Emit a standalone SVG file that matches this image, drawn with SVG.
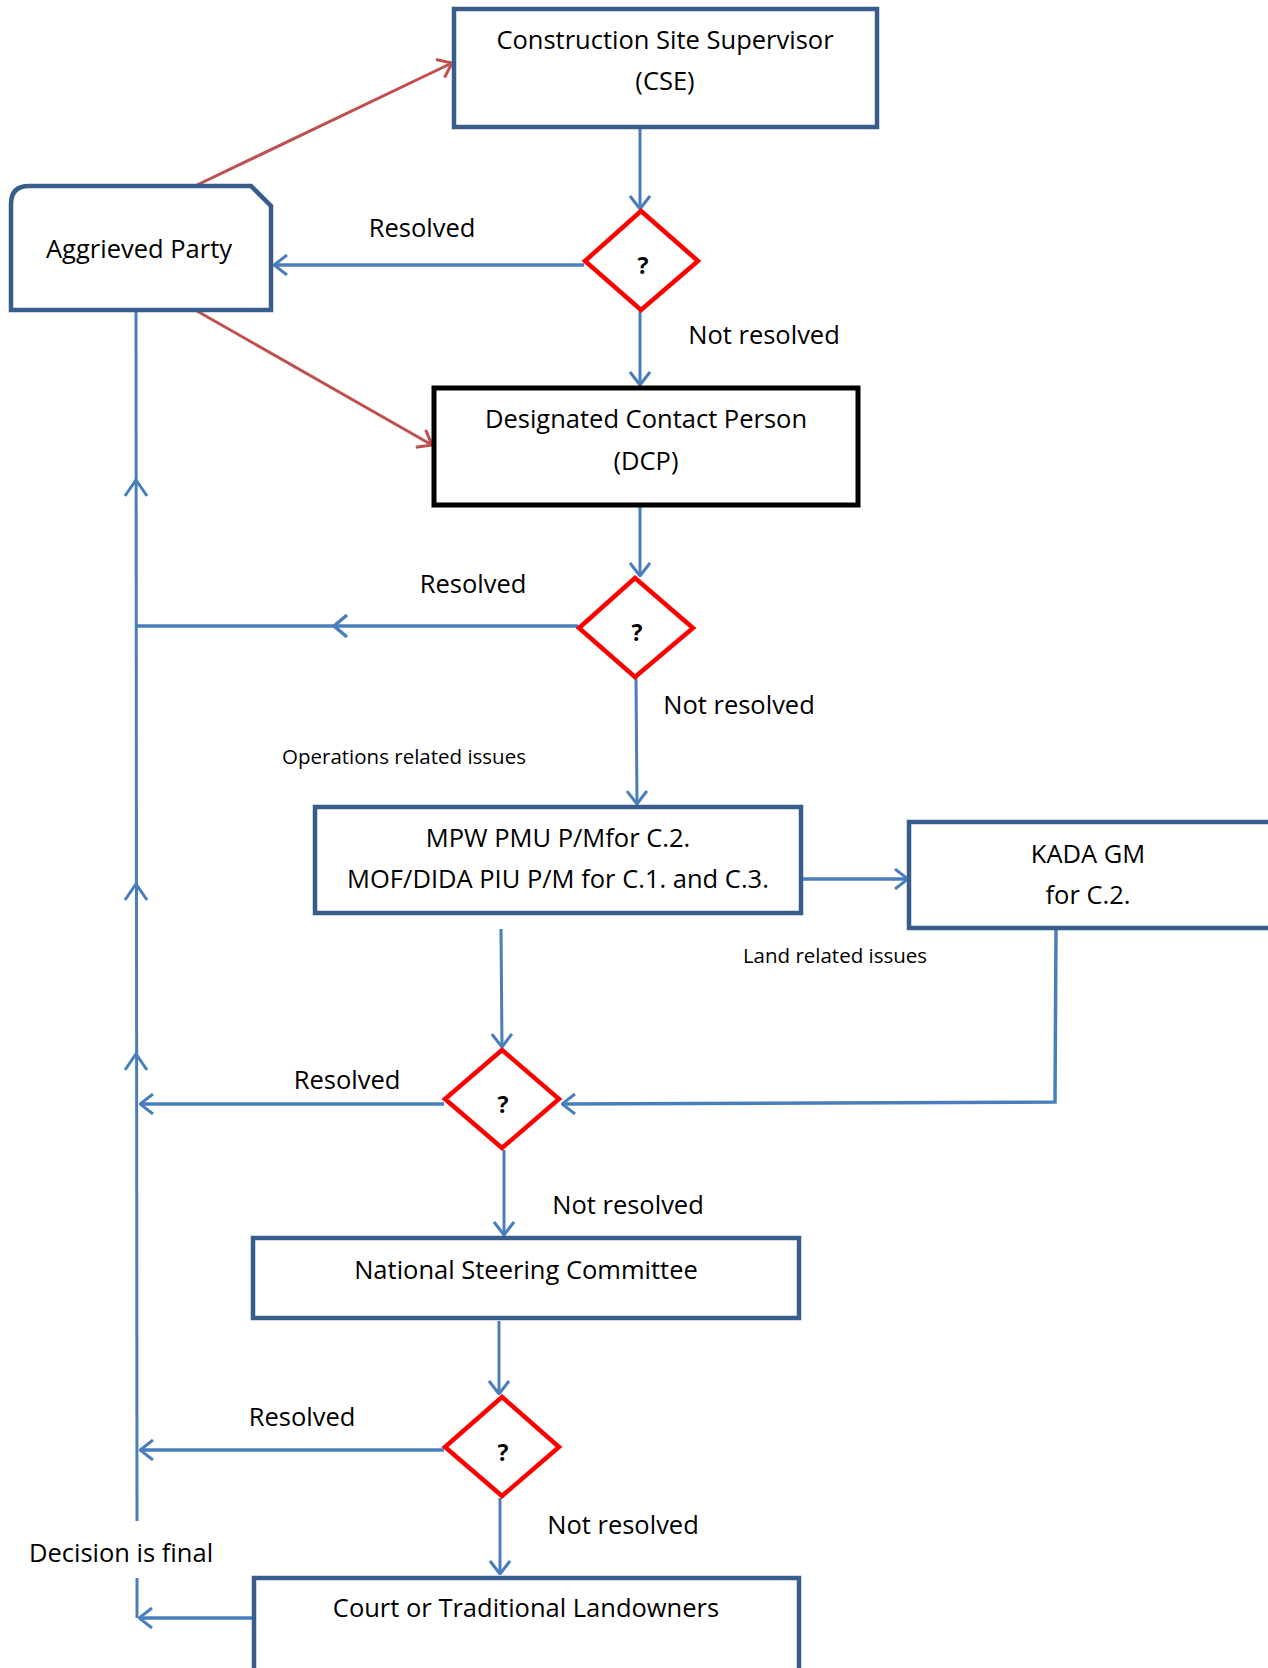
<svg xmlns="http://www.w3.org/2000/svg" width="1268" height="1668" viewBox="0 0 1268 1668">
<style>
.box{fill:#fff;stroke:#385D8A;stroke-width:4.5}
.dia{fill:#fff;stroke:#FF0000;stroke-width:4.5;stroke-linejoin:miter}
.t{font-family:"Open Sans","Liberation Sans",sans-serif;font-size:25.5px;fill:#000;text-anchor:middle}
.s{font-family:"Open Sans","Liberation Sans",sans-serif;font-size:20.5px;fill:#000;text-anchor:middle}
.q{font-family:"Open Sans","Liberation Sans",sans-serif;font-size:23px;font-weight:bold;fill:#000;text-anchor:middle}
.c{fill:none;stroke:#4A7EBB;stroke-width:3}
.ct{fill:none;stroke:#4A7EBB;stroke-width:3.5}
.r{fill:none;stroke:#C0504D;stroke-width:3}
</style>
<defs>
<marker id="ab" viewBox="0 0 15 22" refX="14" refY="11" markerWidth="15" markerHeight="22" markerUnits="userSpaceOnUse" orient="auto">
<path d="M1,1 L14,11 L1,21" fill="none" stroke="#4A7EBB" stroke-width="3"/>
</marker>
<marker id="ar" viewBox="0 0 15 22" refX="14" refY="11" markerWidth="15" markerHeight="22" markerUnits="userSpaceOnUse" orient="auto">
<path d="M1,1 L14,11 L1,21" fill="none" stroke="#C0504D" stroke-width="3"/>
</marker>
</defs>

<g id="connectors">
<line class="r" x1="197" y1="185" x2="452" y2="63" marker-end="url(#ar)"/>
<line class="r" x1="197" y1="311" x2="432" y2="445" marker-end="url(#ar)"/>
<line class="c" x1="640" y1="128" x2="640" y2="209" marker-end="url(#ab)"/>
<line class="ct" x1="584" y1="265" x2="274" y2="265" marker-end="url(#ab)"/>
<line class="c" x1="640" y1="311" x2="640" y2="385" marker-end="url(#ab)"/>
<line class="c" x1="640" y1="507" x2="640" y2="576" marker-end="url(#ab)"/>
<line class="ct" x1="578" y1="626" x2="136" y2="626"/>
<path class="ct" d="M347,615 L334,626 L347,637"/>
<line class="c" x1="636" y1="678" x2="637" y2="804" marker-end="url(#ab)"/>
<line class="ct" x1="803" y1="879" x2="908" y2="879" marker-end="url(#ab)"/>
<line class="c" x1="501" y1="929" x2="502" y2="1047" marker-end="url(#ab)"/>
<polyline class="ct" points="1056,929 1055,1102 562,1104" marker-end="url(#ab)"/>
<line class="ct" x1="444" y1="1104" x2="140" y2="1104" marker-end="url(#ab)"/>
<line class="c" x1="504" y1="1150" x2="504" y2="1235" marker-end="url(#ab)"/>
<line class="c" x1="499" y1="1321" x2="499" y2="1394" marker-end="url(#ab)"/>
<line class="ct" x1="444" y1="1450" x2="140" y2="1450" marker-end="url(#ab)"/>
<line class="c" x1="500" y1="1498" x2="500" y2="1574" marker-end="url(#ab)"/>
<line class="c" x1="136" y1="312" x2="137" y2="1521"/>
<path class="c" d="M125,496 L136,480 L147,496"/>
<path class="c" d="M125,900 L136,884 L147,900"/>
<path class="c" d="M125,1070 L136,1054 L147,1070"/>
<line class="c" x1="137" y1="1578" x2="137" y2="1618"/>
<line class="ct" x1="252" y1="1618" x2="139" y2="1618" marker-end="url(#ab)"/>
</g>

<g id="cse">
<rect class="box" x="454" y="9" width="423" height="118"/>
<text class="t" x="665" y="49">Construction Site Supervisor</text>
<text class="t" x="665" y="90">(CSE)</text>
</g>
<g id="aggrieved">
<path class="box" d="M11,310 L11,204 Q11,186 29,186 L251,186 L271,206 L271,310 Z"/>
<text class="t" x="139" y="258">Aggrieved Party</text>
</g>
<g id="d1">
<polygon class="dia" points="641,211 698,261 641,310 585,261"/>
<text class="q" x="643" y="274">?</text>
</g>
<g id="dcp">
<rect x="434" y="388" width="424" height="117" fill="#fff" stroke="#000" stroke-width="5"/>
<text class="t" x="646" y="428">Designated Contact Person</text>
<text class="t" x="646" y="470">(DCP)</text>
</g>
<g id="d2">
<polygon class="dia" points="635,578 693,628 635,677 579,628"/>
<text class="q" x="637" y="641">?</text>
</g>
<g id="mpw">
<rect class="box" x="315" y="807" width="486" height="106"/>
<text class="t" x="558" y="847">MPW PMU P/Mfor C.2.</text>
<text class="t" x="558" y="888">MOF/DIDA PIU P/M for C.1. and C.3.</text>
</g>
<g id="kada">
<rect class="box" x="909" y="822" width="370" height="106"/>
<text class="t" x="1088" y="863">KADA GM</text>
<text class="t" x="1088" y="904">for C.2.</text>
</g>
<g id="d3">
<polygon class="dia" points="502,1050 559,1099 502,1148 445,1099"/>
<text class="q" x="503" y="1113">?</text>
</g>
<g id="nsc">
<rect class="box" x="253" y="1238" width="546" height="80"/>
<text class="t" x="526" y="1279">National Steering Committee</text>
</g>
<g id="d4">
<polygon class="dia" points="502,1397 559,1447 502,1496 445,1447"/>
<text class="q" x="503" y="1461" font-weight="normal">?</text>
</g>
<g id="court">
<rect class="box" x="254" y="1578" width="545" height="110"/>
<text class="t" x="526" y="1617">Court or Traditional Landowners</text>
</g>

<g id="labels">
<text class="t" x="422" y="237">Resolved</text>
<text class="t" x="764" y="344">Not resolved</text>
<text class="t" x="473" y="593">Resolved</text>
<text class="t" x="739" y="714">Not resolved</text>
<text class="s" x="404" y="764">Operations related issues</text>
<text class="s" x="835" y="963">Land related issues</text>
<text class="t" x="347" y="1089">Resolved</text>
<text class="t" x="628" y="1214">Not resolved</text>
<text class="t" x="302" y="1426">Resolved</text>
<text class="t" x="623" y="1534">Not resolved</text>
<text class="t" x="121" y="1562">Decision is final</text>
</g>
</svg>
